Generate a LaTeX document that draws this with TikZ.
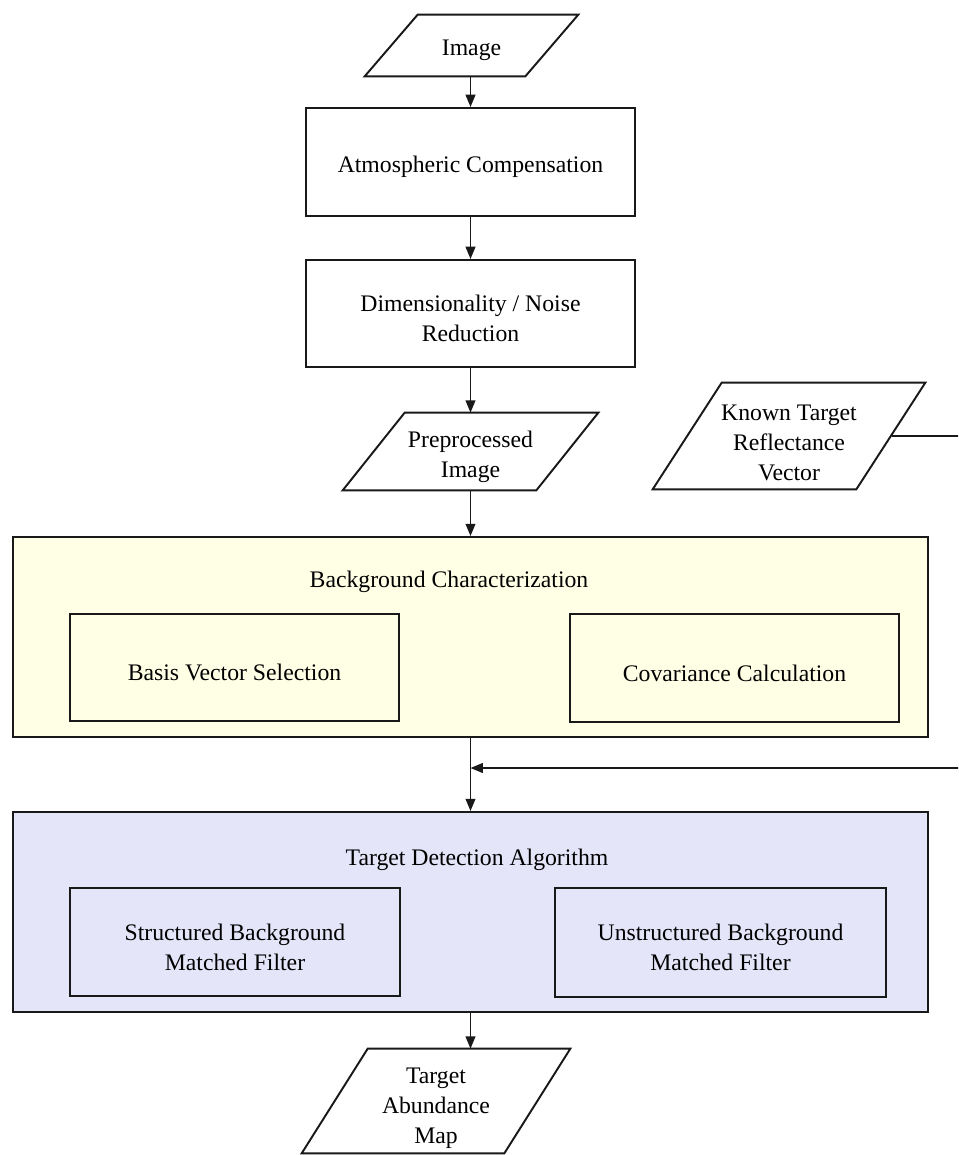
\documentclass[tikz,border=0pt]{standalone}
\usepackage{fontspec}
\setmainfont{Liberation Serif}
\usetikzlibrary{arrows.meta,calc}
\definecolor{bgyellow}{RGB}{255,255,230}
\definecolor{tdblue}{RGB}{229,229,250}
\definecolor{edge}{RGB}{25,25,25}
\begin{document}
\begin{tikzpicture}[x=0.02cm,y=-0.02cm,
  every node/.style={font=\fontsize{13.5}{17}\selectfont, align=center, inner sep=0pt},
  txt/.style={label={[yshift=-0.1cm]center:{#1}}},
  txtlow/.style={label={[yshift=-0.14cm]center:{#1}}},
  box/.style={rectangle, draw=edge, line width=1.1pt, fill=white},
  parabox/.style={rectangle, draw=none},
  paraline/.style={draw=edge, line width=1.1pt},
  group/.style={rectangle, draw=edge, line width=1.1pt},
  arr/.style={draw=edge, line width=1.1pt, -{Triangle[length=7pt,width=5.5pt]}},
  plain/.style={draw=edge, line width=1.1pt}]
\useasboundingbox (0,0) rectangle (958,1155);
\clip (0,0) rectangle (958,1155);
\fill[white] (0,0) rectangle (958,1155);

% Image (parallelogram)
\node[parabox, minimum width=4.26cm, minimum height=1.22cm, txt={Image}] (img) at (471.5,45.5) {};
\draw[paraline] ($(img.north west)+(53,0)$) -- (img.north east) -- ($(img.south east)+(-53,0)$) -- (img.south west) -- cycle;

% process boxes
\node[box, minimum width=6.58cm, minimum height=2.16cm, txt={Atmospheric Compensation}] (atm) at (470.5,162) {};
\node[box, minimum width=6.58cm, minimum height=2.14cm, txt={Dimensionality / Noise\\Reduction}] (dim) at (470.5,313.5) {};

% Preprocessed image
\node[parabox, minimum width=5.1cm, minimum height=1.54cm, txt={Preprocessed\\Image}] (prep) at (470.5,451.5) {};
\draw[paraline] ($(prep.north west)+(62,0)$) -- (prep.north east) -- ($(prep.south east)+(-62,0)$) -- (prep.south west) -- cycle;

% Known target reflectance vector
\node[parabox, minimum width=5.44cm, minimum height=2.12cm, txtlow={Known Target\\Reflectance\\Vector}] (known) at (789,436) {};
\draw[paraline] ($(known.north west)+(69,0)$) -- (known.north east) -- ($(known.south east)+(-69,0)$) -- (known.south west) -- cycle;

% Background characterization group
\node[group, fill=bgyellow, minimum width=18.3cm, minimum height=4cm] (bg) at (470.5,637) {};
\node (bgtitle) at (449,582) {Background Characterization};
\node[box, fill=bgyellow, minimum width=6.58cm, minimum height=2.14cm, txt={Basis Vector Selection}] (basis) at (234.5,667.5) {};
\node[box, fill=bgyellow, minimum width=6.58cm, minimum height=2.16cm, txt={Covariance Calculation}] (cov) at (734.5,668) {};

% Target detection group
\node[group, fill=tdblue, minimum width=18.3cm, minimum height=4cm] (td) at (470.5,912) {};
\node (tdtitle) at (477,860) {Target Detection Algorithm};
\node[box, fill=tdblue, minimum width=6.6cm, minimum height=2.16cm, txt={Structured Background\\Matched Filter}] (sbmf) at (235,942) {};
\node[box, fill=tdblue, minimum width=6.62cm, minimum height=2.18cm, txt={Unstructured Background\\Matched Filter}] (ubmf) at (720.5,942.5) {};

% Target abundance map
\node[parabox, minimum width=5.36cm, minimum height=2.08cm, txtlow={Target\\Abundance\\Map}] (tam) at (436,1101) {};
\draw[paraline] ($(tam.north west)+(66,0)$) -- (tam.north east) -- ($(tam.south east)+(-66,0)$) -- (tam.south west) -- cycle;

% connectors
\draw[arr] (img.south -| atm.north) -- (atm.north);
\draw[arr] (atm.south) -- (dim.north);
\draw[arr] (dim.south) -- (prep.north);
\draw[arr] (prep.south) -- (bg.north);
\draw[arr] (bg.south) -- (td.north);
\draw[arr] (td.south) -- (td.south |- tam.north);
\coordinate (join) at (470.5,768);
\draw[arr] ($(known.east)+(-33,0)$) -- ++(75,0) |- (join);
\end{tikzpicture}
\end{document}
